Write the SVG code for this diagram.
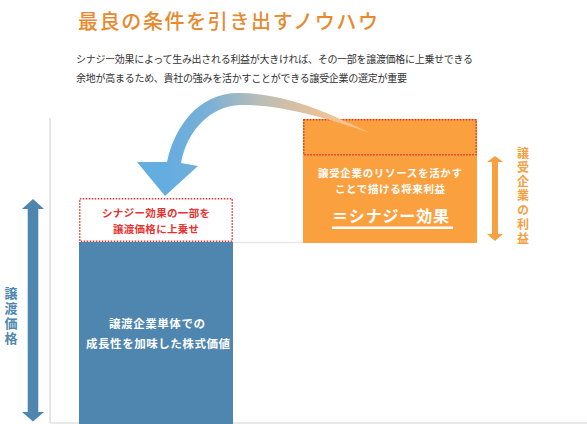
<svg xmlns="http://www.w3.org/2000/svg" width="587" height="424" viewBox="0 0 587 424">
<defs>
<style>
text{font-family:"Noto Sans CJK JP","Noto Sans",sans-serif;}
.title{font-size:20px;fill:#e8892f;font-weight:500;}
.sub{font-size:10px;fill:#333;}
.w{fill:#fff;font-weight:700;text-anchor:middle;}
.red{fill:#e8322f;font-weight:700;text-anchor:middle;font-size:10.5px;}
.dash{fill:none;stroke:#e8322f;stroke-width:1.5;stroke-dasharray:1.5 1.5;}
.vo{fill:#f7a03f;font-weight:700;font-size:12px;writing-mode:vertical-rl;letter-spacing:2.3px;}
.vb{fill:#4e86b0;font-weight:700;font-size:13px;writing-mode:vertical-rl;letter-spacing:2px;}
.axis{stroke:#d4d4d4;stroke-width:1.2;fill:none;}
</style>
<linearGradient id="g" gradientUnits="userSpaceOnUse" x1="160" y1="150" x2="372" y2="120">
<stop offset="0" stop-color="#63ade1"/>
<stop offset="0.25" stop-color="#78b0d6"/>
<stop offset="0.5" stop-color="#bbbdb6"/>
<stop offset="0.8" stop-color="#efc394"/>
<stop offset="1" stop-color="#fac48c"/>
</linearGradient>
</defs>

<g id="title">
<text class="title" x="78" y="29" textLength="300" lengthAdjust="spacing">最良の条件を引き出すノウハウ</text>
<text class="sub" x="76" y="62.5" textLength="397" lengthAdjust="spacing">シナジー効果によって生み出される利益が大きければ、その一部を譲渡価格に上乗せできる</text>
<text class="sub" x="76" y="82" textLength="331" lengthAdjust="spacing">余地が高まるため、貴社の強みを活かすことができる譲受企業の選定が重要</text>
</g>

<g id="axes">
<line class="axis" x1="50" y1="118" x2="50" y2="423"/>
<line class="axis" x1="50" y1="423" x2="587" y2="423"/>
<line x1="233" y1="242.5" x2="303" y2="242.5" stroke="#e8e8e8" stroke-width="1.5"/>
</g>

<g id="blue-box">
<rect x="79" y="242" width="154" height="182" fill="#4e86b0"/>
<text class="w" x="157" y="328" font-size="11.5" textLength="96" lengthAdjust="spacing">譲渡企業単体での</text>
<text class="w" x="158" y="347.5" font-size="11.5" textLength="144" lengthAdjust="spacing">成長性を加味した株式価値</text>
</g>

<g id="price-add">
<rect x="79.75" y="198.75" width="152.5" height="42.5" fill="#fff"/>
<rect class="dash" x="79.75" y="198.75" width="152.5" height="42.5"/>
<text class="red" x="156" y="217" textLength="108" lengthAdjust="spacing">シナジー効果の一部を</text>
<text class="red" x="156" y="232.5" textLength="86" lengthAdjust="spacing">譲渡価格に上乗せ</text>
</g>

<g id="orange-box">
<rect x="303" y="119" width="174" height="124" fill="#fba03f"/>
<rect class="dash" x="303.75" y="119.75" width="172.5" height="35"/>
<text class="w" x="390" y="177" font-size="10.5" textLength="144" lengthAdjust="spacing">譲受企業のリソースを活かす</text>
<text class="w" x="390" y="192.5" font-size="10.5" textLength="110" lengthAdjust="spacing">ことで描ける将来利益</text>
<text class="w" x="390.5" y="222" font-size="16" textLength="117" lengthAdjust="spacing">＝シナジー効果</text>
<rect x="332" y="226.5" width="121" height="2.5" fill="#fff"/>
</g>

<g id="buyer-profit">
<polygon fill="#f7a03f" points="495,156 503,162 498,162 498,234 503,234 495,241 487,234 492,234 492,162 487,162"/>
<text class="vo" x="523" y="147">譲受企業の利益</text>
</g>

<g id="transfer-price">
<polygon fill="#4e86b0" points="33,199 44,209 38.3,209 38.3,412 44,412 33,421.5 22,412 27.7,412 27.7,209 22,209"/>
<text class="vb" x="11" y="287">譲渡価格</text>
</g>

<g id="connectors">
<path fill="url(#g)" d="M370,133 C330,114 290,94 240,93 C200,92 175,125 167,162 L137,162 L165,196 L198,166 L181,163 C187,131 210,106 240,105 C280,104 330,119 370,133 Z"/>
</g>
</svg>
